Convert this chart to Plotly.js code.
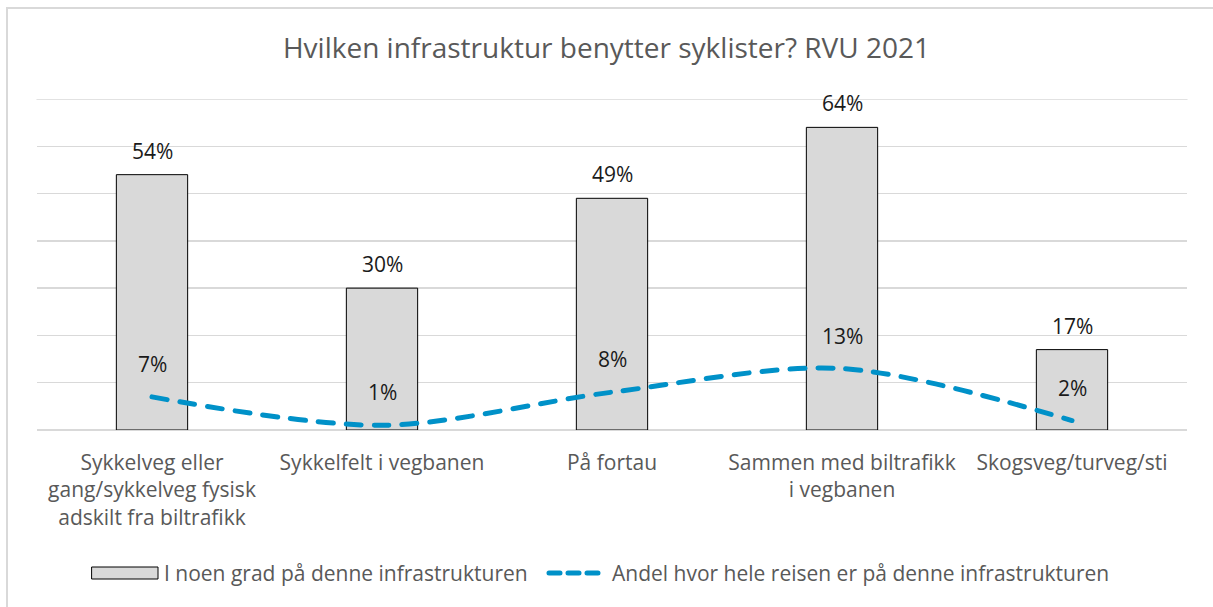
<!DOCTYPE html>
<html>
<head>
<meta charset="utf-8">
<script src="https://cdn.plot.ly/plotly-3.0.1.min.js"></script>
<style>
html,body{margin:0;padding:0;background:#fff;}
#wrap{position:relative;width:1213px;height:607px;}
#chart{width:1213px;height:607px;}
#frame{position:absolute;left:6px;top:7px;width:1220px;height:620px;border-left:2px solid #D9D9D9;border-top:2px solid #D9D9D9;pointer-events:none;}
</style>
</head>
<body>
<div id="wrap"><div id="chart"></div><div id="frame"></div></div>
<script>
const categories = [
  "Sykkelveg eller<br>gang/sykkelveg fysisk<br>adskilt fra biltrafikk",
  "Sykkelfelt i vegbanen",
  "På fortau",
  "Sammen med biltrafikk<br>i vegbanen",
  "Skogsveg/turveg/sti"
];
const barValues = [0.54, 0.30, 0.49, 0.64, 0.17];
const lineValues = [0.07, 0.01, 0.08, 0.13, 0.02];
const barName = "I noen grad på denne infrastrukturen";
const lineName = "Andel hvor hele reisen er på denne infrastrukturen";
const titleText = "Hvilken infrastruktur benytter syklister? RVU 2021";
const yMax = 0.7;

const FONT = "Open Sans, Noto Sans, sans-serif";
const BLUE = '#0091C8';
const pct = v => Math.round(v * 100) + "%";

// plot area in pixels (for placing the legend in paper coordinates)
const M = {l: 37, r: 26, t: 99, b: 177};
const W = 1213, H = 607;
const PW = W - M.l - M.r, PH = H - M.t - M.b;
const px = x => (x - M.l) / PW;
const py = y => (H - M.b - y) / PH;

const annotations = [];
categories.forEach((c, i) => {
  annotations.push({x: c, y: barValues[i], xref: 'x', yref: 'y', text: pct(barValues[i]),
    showarrow: false, yshift: 24, font: {size: 21, color: '#1a1a1a', family: FONT}});
  annotations.push({x: c, y: lineValues[i], xref: 'x', yref: 'y', text: pct(lineValues[i]),
    showarrow: false, yshift: 33, font: {size: 21, color: '#1a1a1a', family: FONT}});
});
// custom legend text
const legY = 573;
annotations.push({xref: 'paper', yref: 'paper', x: px(162), y: py(legY), xanchor: 'left', yanchor: 'middle',
  text: barName, showarrow: false, font: {size: 21, color: '#595959', family: FONT}});
annotations.push({xref: 'paper', yref: 'paper', x: px(610), y: py(legY), xanchor: 'left', yanchor: 'middle',
  text: lineName, showarrow: false, font: {size: 21, color: '#595959', family: FONT}});

const shapes = [
  {type: 'line', xref: 'paper', yref: 'y', x0: 0, x1: 1, y0: yMax, y1: yMax,
   line: {color: '#D9D9D9', width: 1.5}, layer: 'below'},
  {type: 'rect', xref: 'paper', yref: 'paper', x0: px(92), x1: px(158), y0: py(567), y1: py(579),
   fillcolor: '#D9D9D9', line: {color: '#000', width: 1}},
  {type: 'line', xref: 'paper', yref: 'paper', x0: px(549), x1: px(598), y0: py(legY), y1: py(legY),
   line: {color: BLUE, width: 5, dash: '11px,8px'}}
];

const data = [
  {type: 'bar', x: categories, y: barValues, name: barName,
   marker: {color: '#D9D9D9', line: {color: '#000', width: 1}}, hoverinfo: 'skip'},
  {type: 'scatter', mode: 'lines', x: categories, y: lineValues, name: lineName,
   line: {color: BLUE, width: 5, dash: '15px,13px', shape: 'spline', smoothing: 0.9}, hoverinfo: 'skip'}
];

const layout = {
  width: W, height: H,
  margin: M,
  paper_bgcolor: '#fff', plot_bgcolor: '#fff',
  font: {family: FONT, color: '#595959', size: 21},
  title: {text: titleText, x: 0.5, xanchor: 'center', y: 1 - 48/607, yanchor: 'middle',
          font: {size: 28, color: '#595959', family: FONT}},
  bargap: 0.69,
  xaxis: {type: 'category', showgrid: false, zeroline: false, showline: false, ticks: '',
          tickfont: {size: 21, color: '#595959', family: FONT}, automargin: false, ticklabelstandoff: 18},
  yaxis: {range: [0, yMax], dtick: 0.1, showticklabels: false, showgrid: true,
          gridcolor: '#D9D9D9', gridwidth: 1.5, zeroline: true, zerolinecolor: '#D9D9D9', zerolinewidth: 1.5,
          showline: false, ticks: '', fixedrange: true},
  showlegend: false,
  annotations: annotations,
  shapes: shapes
};

Plotly.newPlot('chart', data, layout, {displayModeBar: false, staticPlot: true}).then(() => {
  document.querySelectorAll('.scatterlayer path.js-line, .shapelayer path').forEach(p => {
    p.style.strokeLinecap = 'round';
  });
});
</script>
</body>
</html>
